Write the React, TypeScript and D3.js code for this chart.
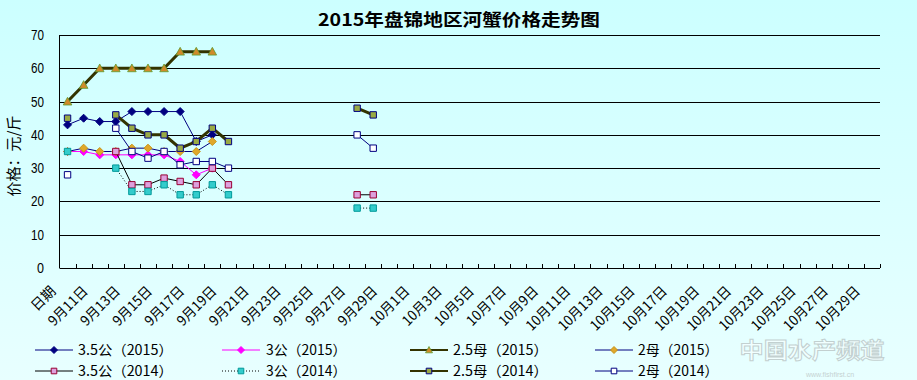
import React from 'react';
import * as d3 from 'd3';

const categories = [
  '日期', '9月10日', '9月11日', '9月12日', '9月13日', '9月14日', '9月15日', '9月16日', '9月17日', '9月18日',
  '9月19日', '9月20日', '9月21日', '9月22日', '9月23日', '9月24日', '9月25日', '9月26日', '9月27日', '9月28日',
  '9月29日', '9月30日', '10月1日', '10月2日', '10月3日', '10月4日', '10月5日', '10月6日', '10月7日', '10月8日',
  '10月9日', '10月10日', '10月11日', '10月12日', '10月13日', '10月14日', '10月15日', '10月16日', '10月17日', '10月18日',
  '10月19日', '10月20日', '10月21日', '10月22日', '10月23日', '10月24日', '10月25日', '10月26日', '10月27日', '10月28日',
  '10月29日',
];

const yTicks = [0, 10, 20, 30, 40, 50, 60, 70];

const gong35_2015 = [43, 45, 44, 44, 47, 47, 47, 47, 38, 40];
const gong3_2015 = [35, 35, 34, 34, 34, 34, 34, 32, 28, 30];
const mu25_2015 = [50, 55, 60, 60, 60, 60, 60, 65, 65, 65];
const mu2_2015 = [35, 36, 35, 35, 36, 36, 35, 35, 35, 38];
const gong35_2014 = [null, null, null, 35, 25, 25, 27, 26, 25, 30, 25, null, null, null, null, null, null, null, 22, 22];
const gong3_2014 = [35, null, null, 30, 23, 23, 25, 22, 22, 25, 22, null, null, null, null, null, null, null, 18, 18];
const mu25_2014 = [45, null, null, 46, 42, 40, 40, 36, 38, 42, 38, null, null, null, null, null, null, null, 48, 46];
const mu2_2014 = [28, null, null, 42, 35, 33, 35, 31, 32, 32, 30, null, null, null, null, null, null, null, 40, 36];

const seriesNames = ['3.5公（2015）', '3公（2015）', '2.5母（2015）', '2母（2015）', '3.5公（2014）', '3公（2014）', '2.5母（2014）', '2母（2014）'];

type Style = { line: string; width: number; dash?: string; marker: 'diamond' | 'triangle' | 'square'; fill: string; stroke: string; size: number; sw: number };

const styles: Style[] = [
  { line: '#000080', width: 1, marker: 'diamond', fill: '#000080', stroke: '#000080', size: 4, sw: 1 },
  { line: '#FF00FF', width: 1, marker: 'diamond', fill: '#FF00FF', stroke: '#FF00FF', size: 4, sw: 1 },
  { line: '#333300', width: 3, marker: 'triangle', fill: '#D08A2A', stroke: '#5E9A2E', size: 4.3, sw: 0.8 },
  { line: '#000080', width: 1, marker: 'diamond', fill: '#E0A82A', stroke: '#C89418', size: 4, sw: 1 },
  { line: '#000000', width: 1, marker: 'square', fill: '#DDA0DD', stroke: '#990033', size: 3.2, sw: 1 },
  { line: '#000000', width: 1, dash: '1,2', marker: 'square', fill: '#33CCCC', stroke: '#009999', size: 3.2, sw: 1 },
  { line: '#333300', width: 3, marker: 'square', fill: '#99AA44', stroke: '#000080', size: 3.2, sw: 1 },
  { line: '#000080', width: 1, marker: 'square', fill: '#FFFFFF', stroke: '#000080', size: 3.2, sw: 1 },
];

const seriesData: (number | null)[][] = [gong35_2015, gong3_2015, mu25_2015, mu2_2015, gong35_2014, gong3_2014, mu25_2014, mu2_2014];

const W = 917, H = 380;
const plotLeft = 59.5, plotRight = 880, plotTop = 35, plotBottom = 268;

function markerPath(kind: string, cx: number, cy: number, s: number) {
  if (kind === 'diamond') return `M${cx},${cy - s}L${cx + s},${cy}L${cx},${cy + s}L${cx - s},${cy}Z`;
  if (kind === 'triangle') return `M${cx},${cy - s}L${cx + s},${cy + s * 0.8}L${cx - s},${cy + s * 0.8}Z`;
  return `M${cx - s},${cy - s}L${cx + s},${cy - s}L${cx + s},${cy + s}L${cx - s},${cy + s}Z`;
}

function halfUnits(s: string) {
  let n = 0;
  for (const ch of s) n += ch.charCodeAt(0) < 256 ? 1 : 2;
  return n;
}

export default function App() {
  const x = d3.scaleBand<number>().domain(d3.range(categories.length)).range([plotLeft, plotRight]).padding(0);
  const bw = x.bandwidth();
  const cx = (i: number) => (x(i) as number) + bw / 2;
  const y = d3.scaleLinear().domain([0, 70]).range([plotBottom, plotTop]);

  const line = d3.line<number | null>()
    .defined((d) => d != null)
    .x((_, i) => cx(i))
    .y((d) => y(d as number));

  const legendCols = [
    { lx: 35, tx: 78 },
    { lx: 222, tx: 266 },
    { lx: 410, tx: 453 },
    { lx: 595, tx: 638 },
  ];
  const legendRows = [350, 371];

  return (
    <svg width={W} height={H} style={{ position: 'absolute', left: 0, top: 0 }} fontFamily="'Noto Sans CJK SC', sans-serif">
      <defs>
        <linearGradient id="bg" x1="0" y1="0" x2="0" y2="1">
          <stop offset="0" stopColor="#CCFFFF" />
          <stop offset="1" stopColor="#E8FFFF" />
        </linearGradient>
      </defs>
      <rect x={0} y={0} width={W} height={H} fill="url(#bg)" />

      <text x={459} y={26} textAnchor="middle" fontSize={17} fontWeight="bold" fill="#000"
        textLength={282} lengthAdjust="spacingAndGlyphs">2015年盘锦地区河蟹价格走势图</text>

      {yTicks.map((t) => (
        <g key={t}>
          {t > 0 && <line x1={plotLeft} x2={plotRight} y1={Math.round(y(t)) + 0.5} y2={Math.round(y(t)) + 0.5} stroke="#000" strokeWidth={1} />}
          <text x={44} y={y(t) + 5} textAnchor="end" fontSize={14} fontFamily="'Liberation Sans', sans-serif" fill="#000"
            textLength={t === 0 ? 7 : 13} lengthAdjust="spacingAndGlyphs">{t}</text>
        </g>
      ))}
      <line x1={plotLeft} x2={plotLeft} y1={plotTop} y2={plotBottom} stroke="#000" />
      <line x1={plotLeft} x2={plotRight} y1={plotBottom + 0.5} y2={plotBottom + 0.5} stroke="#000" />
      {categories.map((_, i) => (
        <line key={i} x1={Math.round((x(i) as number) + bw) + 0.5} x2={Math.round((x(i) as number) + bw) + 0.5}
          y1={plotBottom} y2={plotBottom - 4} stroke="#000" />
      ))}
      {categories.map((c, i) => i % 2 === 0 ? (
        <text key={c} transform={`translate(${cx(i) - 11},${292}) rotate(-45)`} textAnchor="end" fontSize={14} fill="#000"
          textLength={halfUnits(c) * 7} lengthAdjust="spacingAndGlyphs">{c}</text>
      ) : null)}

      <text transform={`translate(19,156) rotate(-90)`} textAnchor="middle" fontSize={15} fill="#000">价格：元/斤</text>

      {seriesData.map((data, si) => {
        const st = styles[si];
        return (
          <g key={si}>
            <path d={line(data) || ''} fill="none" stroke={st.line} strokeWidth={st.width} strokeDasharray={st.dash} />
            {data.map((v, i) => v == null ? null : (
              <path key={i} d={markerPath(st.marker, cx(i), y(v), st.size)} fill={st.fill} stroke={st.stroke} strokeWidth={st.sw} />
            ))}
          </g>
        );
      })}

      {seriesNames.map((name, si) => {
        const st = styles[si];
        const col = legendCols[si % 4];
        const ly = legendRows[Math.floor(si / 4)];
        const mx = col.lx + 19;
        return (
          <g key={name}>
            <line x1={col.lx} x2={col.lx + 38} y1={ly} y2={ly} stroke={st.line} strokeWidth={st.width === 3 ? 2 : 1} strokeDasharray={st.dash} />
            <path d={markerPath(st.marker, mx, ly, st.marker === 'square' ? 2.8 : 3.5)} fill={st.fill} stroke={st.stroke} strokeWidth={st.sw} />
            <text x={col.tx} y={ly + 5} fontSize={14} fill="#000"
              textLength={halfUnits(name) * 7.3} lengthAdjust="spacingAndGlyphs">{name}</text>
          </g>
        );
      })}

      <g opacity={0.45}>
        <text x={812} y={358} textAnchor="middle" fontSize={22} fontWeight="bold" fill="#FFFFFF" stroke="#999" strokeWidth={1}
          textLength={145} lengthAdjust="spacingAndGlyphs">中国水产频道</text>
        <text x={830} y={377} textAnchor="middle" fontSize={7} fill="#999" fontFamily="'Liberation Sans', sans-serif">www.fishfirst.cn</text>
      </g>
    </svg>
  );
}
